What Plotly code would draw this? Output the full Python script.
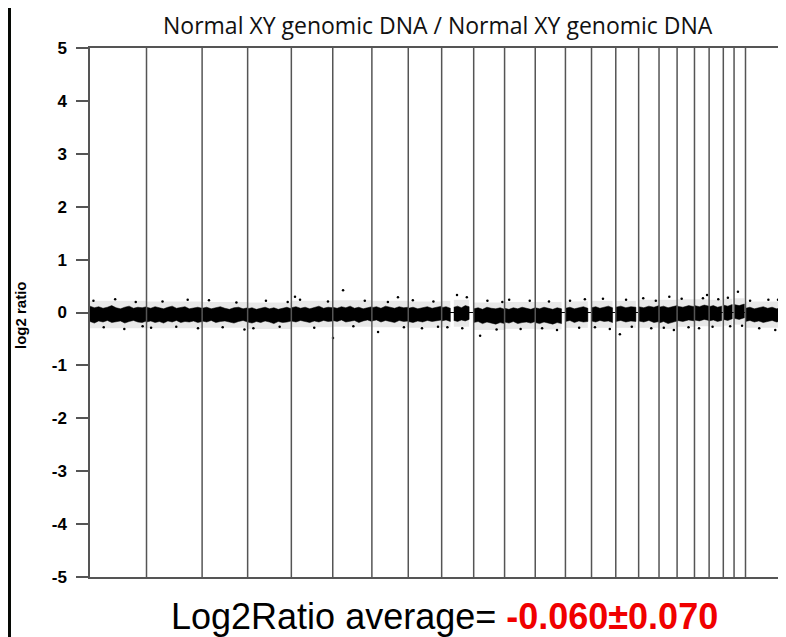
import numpy as np
import plotly.graph_objs as go

# chromosome layout (Mb, hg18-ish)
chrom_names = [str(i) for i in range(1, 23)] + ['X', 'Y']
chrom_len = [247, 243, 199, 191, 181, 171, 159, 146, 140, 135, 134, 132,
             114, 106, 100, 89, 79, 76, 64, 62, 47, 50, 155, 58]

# covered spans: chromosome index, start, end (Mb)
span_chrom = [0, 1, 2, 3, 4, 5, 6, 7, 8, 8, 9, 10, 11, 12, 13, 14,
              15, 16, 17, 18, 19, 20, 21, 22, 23]
span_start = [0, 0, 0, 0, 0, 0, 0, 0, 0, 53, 0, 0, 0, 0, 0, 0,
              0, 0, 0, 0, 0, 0, 0, 0, 0]
span_end = [247, 243, 199, 191, 181, 171, 159, 146, 38, 120, 135, 134,
            115, 98, 92, 88, 89, 79, 76, 64, 55, 39, 45, 155, 58]

# dense band edges (log2 ratio) along each span
band_hi = [
    [0.12, 0.09, 0.11, 0.08, 0.10, 0.13, 0.09, 0.07, 0.10, 0.12, 0.08, 0.10, 0.09, 0.11],
    [0.10, 0.08, 0.11, 0.09, 0.07, 0.10, 0.12, 0.08, 0.09, 0.11, 0.07, 0.09, 0.10, 0.08],
    [0.08, 0.10, 0.07, 0.09, 0.11, 0.08, 0.06, 0.09, 0.10, 0.07, 0.09],
    [0.07, 0.09, 0.06, 0.08, 0.10, 0.07, 0.09, 0.06, 0.08, 0.10, 0.07],
    [0.09, 0.11, 0.08, 0.10, 0.07, 0.09, 0.12, 0.08, 0.10, 0.09],
    [0.10, 0.08, 0.11, 0.09, 0.12, 0.08, 0.10, 0.07, 0.09, 0.11],
    [0.09, 0.11, 0.08, 0.12, 0.10, 0.08, 0.11, 0.09, 0.10],
    [0.08, 0.10, 0.07, 0.09, 0.11, 0.08, 0.10, 0.12],
    [0.09, 0.11, 0.08],
    [0.10, 0.12, 0.09, 0.13, 0.11],
    [0.07, 0.09, 0.06, 0.10, 0.08, 0.07, 0.09, 0.06],
    [0.08, 0.06, 0.09, 0.07, 0.10, 0.08, 0.06, 0.09],
    [0.09, 0.07, 0.10, 0.08, 0.06, 0.09, 0.07],
    [0.08, 0.10, 0.07, 0.09, 0.11, 0.08],
    [0.09, 0.11, 0.08, 0.10, 0.12, 0.09],
    [0.10, 0.12, 0.09, 0.11, 0.10],
    [0.11, 0.09, 0.12, 0.10, 0.13],
    [0.10, 0.12, 0.09, 0.11, 0.13],
    [0.12, 0.10, 0.13, 0.11],
    [0.13, 0.11, 0.14, 0.12],
    [0.11, 0.13, 0.10, 0.12],
    [0.14, 0.12, 0.15],
    [0.15, 0.13, 0.16],
    [0.08, 0.10, 0.07, 0.09, 0.11, 0.08, 0.10, 0.07, 0.09],
    [0.10, 0.12, 0.09, 0.11],
]
band_lo = [
    [-0.17, -0.20, -0.16, -0.18, -0.15, -0.19, -0.17, -0.16, -0.20, -0.17, -0.15, -0.18, -0.19, -0.16],
    [-0.18, -0.16, -0.19, -0.17, -0.20, -0.16, -0.18, -0.15, -0.19, -0.17, -0.18, -0.16, -0.19, -0.17],
    [-0.16, -0.18, -0.15, -0.19, -0.17, -0.16, -0.18, -0.20, -0.17, -0.15, -0.18],
    [-0.18, -0.20, -0.17, -0.19, -0.16, -0.18, -0.21, -0.17, -0.19, -0.18, -0.16],
    [-0.16, -0.18, -0.15, -0.17, -0.19, -0.16, -0.18, -0.15, -0.17, -0.16],
    [-0.15, -0.17, -0.14, -0.18, -0.16, -0.15, -0.19, -0.16, -0.14, -0.17],
    [-0.16, -0.14, -0.18, -0.15, -0.17, -0.19, -0.15, -0.17, -0.16],
    [-0.17, -0.19, -0.16, -0.18, -0.15, -0.17, -0.16, -0.14],
    [-0.16, -0.14, -0.17],
    [-0.15, -0.17, -0.14, -0.16, -0.13],
    [-0.19, -0.17, -0.21, -0.18, -0.20, -0.22, -0.19, -0.21],
    [-0.18, -0.20, -0.17, -0.21, -0.19, -0.18, -0.20, -0.17],
    [-0.19, -0.21, -0.18, -0.20, -0.22, -0.19, -0.21],
    [-0.17, -0.15, -0.19, -0.16, -0.18, -0.17],
    [-0.16, -0.18, -0.15, -0.17, -0.16, -0.19],
    [-0.17, -0.15, -0.18, -0.16, -0.17],
    [-0.16, -0.18, -0.15, -0.19, -0.17],
    [-0.20, -0.17, -0.21, -0.18, -0.16],
    [-0.15, -0.17, -0.14, -0.16],
    [-0.14, -0.16, -0.13, -0.15],
    [-0.16, -0.14, -0.17, -0.15],
    [-0.13, -0.15, -0.12],
    [-0.11, -0.13, -0.10],
    [-0.17, -0.15, -0.18, -0.16, -0.19, -0.17, -0.15, -0.18, -0.16],
    [-0.15, -0.13, -0.16, -0.14],
]
# sparse scatter zone around the band
halo_hi = [0.22, 0.21, 0.20, 0.19, 0.22, 0.23, 0.22, 0.21, 0.22, 0.24, 0.19, 0.20,
           0.20, 0.21, 0.22, 0.22, 0.24, 0.24, 0.25, 0.25, 0.24, 0.26, 0.27, 0.21, 0.22]
halo_lo = [-0.30, -0.30, -0.29, -0.31, -0.28, -0.27, -0.28, -0.29, -0.28, -0.27, -0.33, -0.31,
           -0.32, -0.29, -0.29, -0.29, -0.29, -0.31, -0.27, -0.26, -0.27, -0.25, -0.23, -0.29, -0.27]

# individual scattered probes (chromosome index, Mb, log2 ratio)
spk_chrom = [0, 0, 0, 0, 0, 0, 1, 1, 1, 1, 1, 2, 2, 2, 2, 3, 3, 3, 3,
             4, 4, 4, 4, 5, 5, 5, 5, 6, 6, 6, 6, 7, 7, 7, 7, 8, 8, 8, 8,
             9, 9, 9, 9, 10, 10, 10, 11, 11, 11, 12, 12, 12, 13, 13, 13,
             14, 14, 14, 15, 15, 15, 16, 16, 16, 17, 17, 18, 18, 18, 19, 19,
             20, 20, 21, 21, 22, 22, 22, 22, 22, 23, 23]
spk_pos = [15, 60, 110, 150, 200, 230, 20, 70, 130, 180, 225, 30, 90, 150, 185,
           25, 80, 140, 175, 16, 38, 100, 160, 1, 45, 90, 140, 27, 70, 114, 140,
           20, 60, 110, 130, 25, 67, 90, 110, 28, 60, 100, 125, 20, 70, 110,
           30, 60, 95, 20, 60, 85, 15, 50, 80, 18, 45, 70, 20, 55, 75, 21, 45, 65,
           20, 50, 37, 20, 55, 15, 40, 20, 30, 17, 35, 20, 60, 100, 142, 130, 10, 15]
spk_val = [0.22, -0.28, 0.25, -0.31, 0.20, -0.26, -0.29, 0.21, -0.27, 0.24, -0.30,
           0.23, -0.28, 0.19, -0.32, -0.30, 0.22, -0.27, 0.20, 0.30, 0.24, -0.29, 0.21,
           -0.48, 0.42, -0.26, 0.22, -0.37, 0.20, 0.29, -0.28, 0.23, -0.30, 0.21, -0.27,
           -0.28, 0.33, -0.30, 0.29, -0.44, 0.22, -0.32, 0.20, 0.24, -0.31, 0.22,
           -0.30, 0.21, -0.33, 0.22, -0.29, 0.25, -0.28, 0.26, -0.31, -0.41, 0.24, -0.27,
           0.27, -0.30, 0.22, -0.29, 0.30, -0.33, 0.26, -0.28, 0.27, -0.30, 0.33,
           -0.27, 0.25, 0.28, -0.26, 0.39, -0.25, 0.22, -0.30, 0.24, 0.24, -0.33, 0.21, -0.27]

y_ticks = [5, 4, 3, 2, 1, 0, -1, -2, -3, -4, -5]

chrom_offset = np.concatenate([[0], np.cumsum(chrom_len)[:-1]])
x_max = 3042

fig = go.Figure()

for k in range(len(span_chrom)):
    off = chrom_offset[span_chrom[k]]
    s, e = span_start[k] + off, span_end[k] + off
    fig.add_trace(go.Scatter(x=[s, e, e, s], y=[halo_hi[k], halo_hi[k], halo_lo[k], halo_lo[k]],
                             fill='toself', fillcolor='rgba(0,0,0,0.09)',
                             line=dict(width=0), mode='lines', hoverinfo='skip'))
    xs = np.linspace(s, e, len(band_hi[k]))
    fig.add_trace(go.Scatter(x=list(xs) + list(xs[::-1]),
                             y=band_hi[k] + band_lo[k][::-1],
                             fill='toself', fillcolor='black',
                             line=dict(color='black', width=0.5), mode='lines',
                             hoverinfo='skip'))

fig.add_trace(go.Scatter(x=[chrom_offset[c] + p for c, p in zip(spk_chrom, spk_pos)],
                         y=spk_val, mode='markers',
                         marker=dict(color='black', size=2.5), hoverinfo='skip'))

shapes = []
for b in np.cumsum(chrom_len)[:-1]:
    shapes.append(dict(type='line', xref='x', yref='y', x0=b, x1=b, y0=-5, y1=5,
                       line=dict(color='#555', width=1.5), layer='above'))
# dark strip on the left of the slide
shapes.append(dict(type='rect', xref='paper', yref='paper',
                   x0=-82 / 696, x1=-79 / 696, y0=-68 / 529, y1=1 + 40 / 529,
                   fillcolor='#060905', line=dict(width=0), layer='above'))

# page body adds 8px, so margins are shifted to keep the plot box in place
fig.update_layout(
    width=786, height=637,
    margin=dict(l=82, r=8, t=40, b=68),
    paper_bgcolor='white', plot_bgcolor='white',
    showlegend=False,
    shapes=shapes,
    xaxis=dict(range=[0, x_max], showgrid=False, zeroline=False,
               showticklabels=False, ticks='', showline=True, mirror=True,
               linecolor='#555', linewidth=1.5),
    yaxis=dict(range=[-5, 5], showgrid=False, zeroline=True,
               zerolinecolor='black', zerolinewidth=1,
               tickvals=y_ticks, ticktext=[str(v) for v in y_ticks],
               ticks='outside', ticklen=12, tickcolor='#555', tickwidth=1.5,
               ticklabelstandoff=6,
               tickfont=dict(family='Liberation Sans', size=17, color='black', weight='bold'),
               showline=True, linecolor='#555', linewidth=1.5),
    annotations=[
        dict(text='Normal XY genomic DNA / Normal XY genomic DNA', xref='paper', yref='paper',
             x=(438 - 90) / 696, y=(577 - 25) / 529, xanchor='center', yanchor='middle',
             showarrow=False, borderpad=0,
             font=dict(family='Open Sans', size=23, color='#111')),
        dict(text='<b>log2 ratio</b>', xref='paper', yref='paper', textangle=-90,
             x=(21 - 90) / 696, y=(577 - 315) / 529, xanchor='center', yanchor='middle',
             showarrow=False, font=dict(family='Liberation Sans', size=15, color='black')),
        dict(text="Log2Ratio average= <span style='color:#f00000'><b>-0.060\u00b10.070</b></span>",
             xref='paper', yref='paper', x=(444 - 90) / 696, y=(577 - 616) / 529,
             xanchor='center', yanchor='middle', showarrow=False,
             font=dict(family='Liberation Sans', size=36, color='black')),
    ],
)

fig.write_html("out.html")
